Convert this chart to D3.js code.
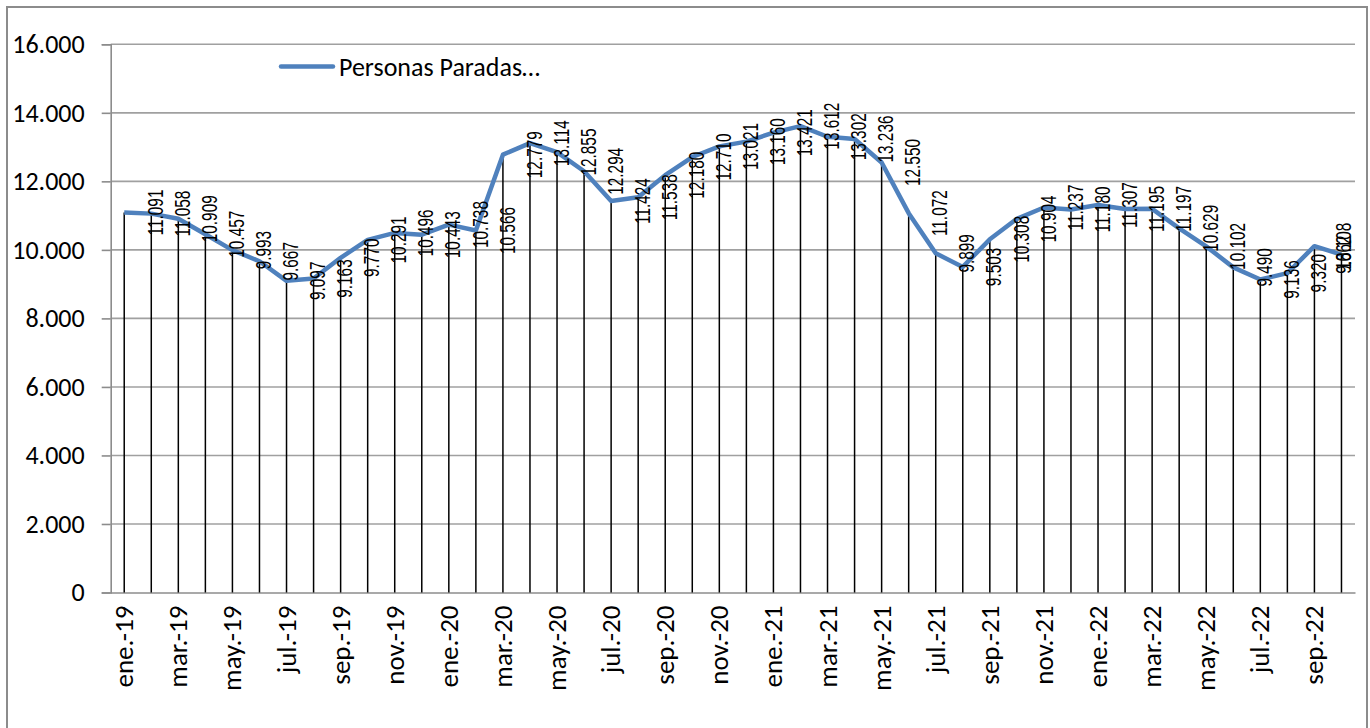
<!DOCTYPE html>
<html>
<head>
<meta charset="utf-8">
<script src="https://cdn.jsdelivr.net/npm/d3@7"></script>
<style>
  html, body { margin: 0; padding: 0; background: #fff; }
  svg { display: block; }
</style>
</head>
<body>
<div id="chart"></div>
<script>
// categorías mensuales
const months = [
  'ene.-19','feb.-19','mar.-19','abr.-19','may.-19','jun.-19','jul.-19','ago.-19','sep.-19','oct.-19','nov.-19','dic.-19',
  'ene.-20','feb.-20','mar.-20','abr.-20','may.-20','jun.-20','jul.-20','ago.-20','sep.-20','oct.-20','nov.-20','dic.-20',
  'ene.-21','feb.-21','mar.-21','abr.-21','may.-21','jun.-21','jul.-21','ago.-21','sep.-21','oct.-21','nov.-21','dic.-21',
  'ene.-22','feb.-22','mar.-22','abr.-22','may.-22','jun.-22','jul.-22','ago.-22','sep.-22','oct.-22'
];
// personas paradas
const parados = [
  11091, 11058, 10909, 10457, 9993, 9667, 9097, 9163, 9770, 10291, 10496, 10443,
  10738, 10566, 12779, 13114, 12855, 12294, 11424, 11538, 12180, 12710, 13021, 13160,
  13421, 13612, 13302, 13236, 12550, 11072, 9899, 9503, 10308, 10904, 11237, 11180,
  11307, 11195, 11197, 10629, 10102, 9490, 9136, 9320, 10108, 9862
];
const yTicks = [0, 2000, 4000, 6000, 8000, 10000, 12000, 14000, 16000];
const seriesName = 'Personas Paradas…';

const width = 1370, height = 728;
const margin = { top: 44.3, right: 15, bottom: 135.5, left: 110.7 };
const blue = '#4f81bd';
const axisGrey = '#8c8c8c';
const uiFont = 'Carlito, Calibri, "Open Sans", sans-serif';

const es = d3.formatLocale({ decimal: ',', thousands: '.', grouping: [3], currency: ['', '€'] });
const fmt = es.format(',');

const svg = d3.select('#chart').append('svg')
  .attr('width', width)
  .attr('height', height);

// marco del gráfico
svg.append('rect')
  .attr('x', 7).attr('y', 7)
  .attr('width', 1360).attr('height', 740)
  .attr('fill', 'none')
  .attr('stroke', axisGrey)
  .attr('stroke-width', 2);

const x = d3.scaleBand()
  .domain(months)
  .range([margin.left, width - margin.right]);

const y = d3.scaleLinear()
  .domain([0, 16000])
  .range([height - margin.bottom, margin.top]);

const cx = d => x(d) + x.bandwidth() / 2;

// rejilla horizontal
svg.append('g')
  .selectAll('line')
  .data(yTicks.filter(t => t > 0))
  .join('line')
  .attr('x1', margin.left).attr('x2', width - margin.right)
  .attr('y1', d => y(d)).attr('y2', d => y(d))
  .attr('stroke', '#a0a0a0')
  .attr('stroke-width', 1.6);

// eje Y
const yAxis = svg.append('g')
  .attr('transform', `translate(${margin.left},0)`)
  .call(d3.axisLeft(y).tickValues(yTicks).tickSize(9).tickPadding(17).tickFormat(fmt));
yAxis.select('.domain').attr('stroke', axisGrey).attr('stroke-width', 1.6);
yAxis.selectAll('.tick line').attr('stroke', axisGrey).attr('stroke-width', 1.6);
yAxis.selectAll('.tick text')
  .attr('fill', '#000')
  .style('font-family', uiFont)
  .style('font-size', '26px');

// eje X
const xAxis = svg.append('g')
  .attr('transform', `translate(0,${y(0)})`)
  .call(d3.axisBottom(x).tickValues(months.filter((d, i) => i % 2 === 0)).tickSize(0).tickPadding(0));
xAxis.select('.domain').attr('stroke', axisGrey).attr('stroke-width', 1.6);
xAxis.selectAll('.tick text')
  .attr('fill', '#000')
  .attr('text-anchor', 'end')
  .attr('dy', null)
  .attr('transform', 'translate(9,13) rotate(-90)')
  .style('font-family', uiFont)
  .style('font-size', '27px');

const points = months.map((m, i) => ({ m, v: parados[i] }));

// líneas de caída
svg.append('g')
  .selectAll('line')
  .data(points)
  .join('line')
  .attr('x1', d => cx(d.m)).attr('x2', d => cx(d.m))
  .attr('y1', d => y(d.v)).attr('y2', y(0))
  .attr('stroke', '#000')
  .attr('stroke-width', 1.5);

// serie
svg.append('path')
  .datum(points)
  .attr('fill', 'none')
  .attr('stroke', blue)
  .attr('stroke-width', 4.5)
  .attr('stroke-linejoin', 'round')
  .attr('d', d3.line().x(d => cx(d.m)).y(d => y(d.v)));

// etiquetas de datos (giradas, a la derecha del punto)
svg.append('g')
  .selectAll('text')
  .data(points)
  .join('text')
  .attr('transform', d => {
    const lx = Math.min(cx(d.m) + 31, 1343);
    return `translate(${lx},${y(d.v)}) rotate(-90) scale(0.7,1)`;
  })
  .attr('text-anchor', 'middle')
  .attr('dy', '0.35em')
  .style('font-family', '"Liberation Sans", Arial, sans-serif')
  .style('font-size', '22px')
  .attr('fill', '#000')
  .text(d => fmt(d.v));

// leyenda
const legend = svg.append('g');
legend.append('line')
  .attr('x1', 281).attr('x2', 333)
  .attr('y1', 66.5).attr('y2', 66.5)
  .attr('stroke', blue)
  .attr('stroke-width', 4.5)
  .attr('stroke-linecap', 'round');
legend.append('text')
  .attr('x', 339).attr('y', 76)
  .style('font-family', uiFont)
  .style('font-size', '26px')
  .attr('fill', '#000')
  .text(seriesName);
</script>
</body>
</html>
